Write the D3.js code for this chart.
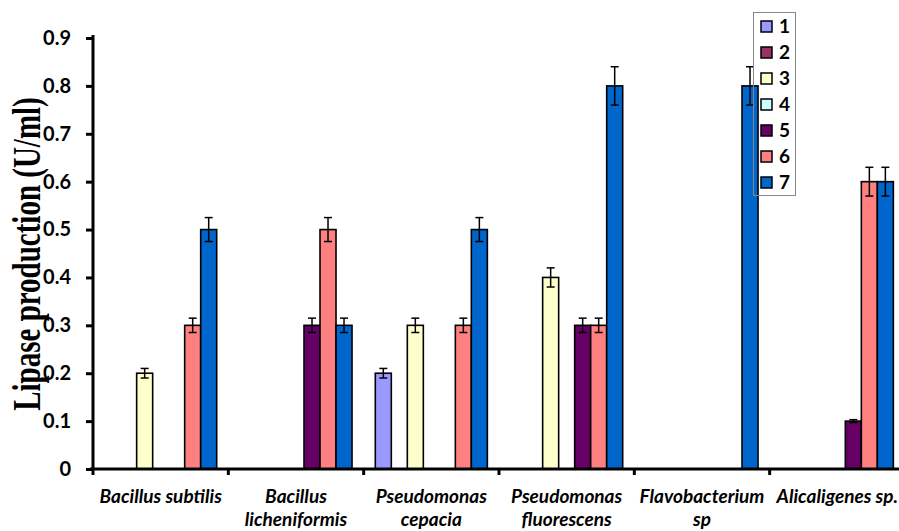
<!DOCTYPE html>
<html lang="en">
<head>
<meta charset="utf-8">
<script src="https://d3js.org/d3.v7.min.js"></script>
<style>
  body { margin: 0; background: #fff; }
  text { font-family: Lato, "Open Sans", sans-serif; }
</style>
</head>
<body>
<div id="chart"></div>
<script>
  // categories (organisms) and their label lines
  const organisms = ["Bacillus subtilis", "Bacillus licheniformis", "Pseudomonas cepacia",
    "Pseudomonas fluorescens", "Flavobacterium sp", "Alicaligenes sp."];
  const organismLines = [["Bacillus subtilis"], ["Bacillus", "licheniformis"], ["Pseudomonas", "cepacia"],
    ["Pseudomonas", "fluorescens"], ["Flavobacterium", "sp"], ["Alicaligenes sp."]];

  const seriesNames = ["1", "2", "3", "4", "5", "6", "7"];
  const seriesColors = ["#9999ff", "#993366", "#ffffcc", "#ccffff", "#660066", "#ff8080", "#0066cc"];

  // values per series, one per organism (0 = no bar)
  const s1 = [0, 0, 0.2, 0, 0, 0];
  const s2 = [0, 0, 0, 0, 0, 0];
  const s3 = [0.2, 0, 0.3, 0.4, 0, 0];
  const s4 = [0, 0, 0, 0, 0, 0];
  const s5 = [0, 0.3, 0, 0.3, 0, 0.1];
  const s6 = [0.3, 0.5, 0.3, 0.3, 0, 0.6];
  const s7 = [0.5, 0.3, 0.5, 0.8, 0.8, 0.6];

  // error bar half-widths
  const e1 = [0, 0, 0.01, 0, 0, 0];
  const e2 = [0, 0, 0, 0, 0, 0];
  const e3 = [0.01, 0, 0.015, 0.02, 0, 0];
  const e4 = [0, 0, 0, 0, 0, 0];
  const e5 = [0, 0.015, 0, 0.015, 0, 0.003];
  const e6 = [0.015, 0.025, 0.015, 0.015, 0, 0.03];
  const e7 = [0.025, 0.015, 0.025, 0.04, 0.04, 0.03];

  const yTicks = [0, 0.1, 0.2, 0.3, 0.4, 0.5, 0.6, 0.7, 0.8, 0.9];

  const values = [s1, s2, s3, s4, s5, s6, s7];
  const errors = [e1, e2, e3, e4, e5, e6, e7];

  const svgWidth = 899, svgHeight = 531;
  const plot = {left: 93, right: 905, top: 38, bottom: 469};

  const svg = d3.select("#chart").append("svg")
    .attr("width", svgWidth)
    .attr("height", svgHeight);

  const x0 = d3.scaleBand().domain(organisms)
    .range([plot.left, plot.right])
    .paddingInner(0.172)
    .paddingOuter(0.086);
  const x1 = d3.scaleBand().domain(seriesNames).range([0, x0.bandwidth()]);
  const y = d3.scaleLinear().domain([0, 0.9]).range([plot.bottom, plot.top]);

  // bars
  const bars = [];
  values.forEach((arr, si) => arr.forEach((v, ci) => {
    if (v > 0) bars.push({s: seriesNames[si], si: si, org: organisms[ci], v: v, err: errors[si][ci]});
  }));

  const g = svg.append("g");
  g.selectAll("rect.bar").data(bars).enter().append("rect")
    .attr("class", "bar")
    .attr("x", d => x0(d.org) + x1(d.s))
    .attr("y", d => y(d.v))
    .attr("width", x1.bandwidth())
    .attr("height", d => y(0) - y(d.v))
    .attr("fill", d => seriesColors[d.si])
    .attr("stroke", "#000")
    .attr("stroke-width", 1.6);

  // error bars
  const eb = g.selectAll("g.err").data(bars.filter(d => d.err > 0)).enter().append("g")
    .attr("class", "err")
    .attr("stroke", "#000")
    .attr("stroke-width", 1.5);
  const cx = d => x0(d.org) + x1(d.s) + x1.bandwidth() / 2;
  eb.append("line").attr("x1", cx).attr("x2", cx)
    .attr("y1", d => y(d.v + d.err)).attr("y2", d => y(d.v - d.err));
  eb.append("line").attr("x1", d => cx(d) - 4).attr("x2", d => cx(d) + 4)
    .attr("y1", d => y(d.v + d.err)).attr("y2", d => y(d.v + d.err));
  eb.append("line").attr("x1", d => cx(d) - 4).attr("x2", d => cx(d) + 4)
    .attr("y1", d => y(d.v - d.err)).attr("y2", d => y(d.v - d.err));

  // y axis
  const yAxis = svg.append("g")
    .attr("transform", "translate(" + plot.left + ",0)")
    .call(d3.axisLeft(y).tickValues(yTicks).tickSize(7).tickPadding(15)
      .tickFormat(d => d === 0 ? "0" : d.toFixed(1)));
  yAxis.select(".domain").attr("stroke-width", 3).attr("d", "M0," + (plot.top - 3) + "V" + plot.bottom);
  yAxis.selectAll(".tick line").attr("stroke-width", 3);
  yAxis.selectAll("text").attr("font-size", 20).attr("font-weight", "bold")
    .attr("font-family", "Lato, sans-serif").attr("fill", "#000");

  // x axis
  const bounds = organisms.map(o => x0(o) - x0.step() * x0.paddingInner() / 2);
  svg.append("line")
    .attr("x1", plot.left - 3).attr("x2", svgWidth)
    .attr("y1", plot.bottom).attr("y2", plot.bottom)
    .attr("stroke", "#000").attr("stroke-width", 3);
  svg.selectAll("line.xt").data(bounds).enter().append("line")
    .attr("class", "xt")
    .attr("x1", d => d).attr("x2", d => d)
    .attr("y1", plot.bottom).attr("y2", plot.bottom + 6)
    .attr("stroke", "#000").attr("stroke-width", 3);

  const labels = svg.selectAll("text.xl").data(organisms).enter().append("text")
    .attr("class", "xl")
    .attr("text-anchor", "middle")
    .attr("font-size", 19)
    .attr("font-weight", "bold")
    .attr("font-style", "italic");
  labels.selectAll("tspan").data((d, i) => organismLines[i].map(t => ({t: t, c: d})))
    .enter().append("tspan")
    .attr("x", d => x0(d.c) + x0.bandwidth() / 2)
    .attr("y", (d, j) => 503 + j * 23)
    .text(d => d.t);

  // y axis title (glyphs look stretched sideways in the original)
  svg.append("text")
    .attr("transform", "translate(40,254) scale(1.35,1) rotate(-90)")
    .attr("text-anchor", "middle")
    .style("font-family", "'Liberation Serif', 'Times New Roman', serif")
    .attr("font-size", 29)
    .attr("font-weight", "bold")
    .text("Lipase production (U/ml)");

  // legend
  const legend = svg.append("g");
  legend.append("rect")
    .attr("x", 753.5).attr("y", 12.5).attr("width", 42).attr("height", 183)
    .attr("fill", "none").attr("stroke", "#888").attr("stroke-width", 1);
  const li = legend.selectAll("g.li").data(seriesNames).enter().append("g")
    .attr("class", "li")
    .attr("transform", (d, i) => "translate(761," + (21 + i * 26) + ")");
  li.append("rect").attr("width", 11).attr("height", 11)
    .attr("fill", (d, i) => seriesColors[i])
    .attr("stroke", "#000").attr("stroke-width", 1.5);
  li.append("text").attr("x", 18).attr("y", 11.5)
    .attr("font-size", 19).attr("font-weight", "bold")
    .text(d => d);
</script>
</body>
</html>
